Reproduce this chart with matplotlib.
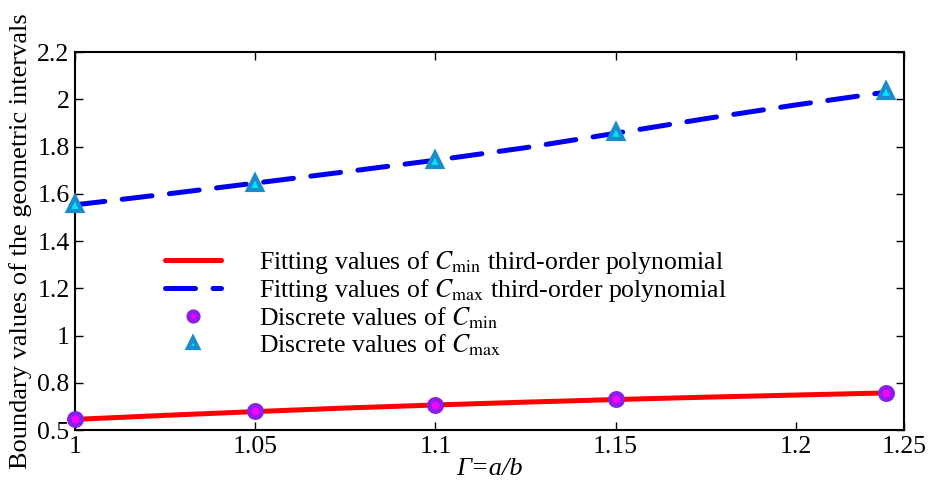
import matplotlib
matplotlib.use("Agg")
import matplotlib.pyplot as plt

plt.rcParams['font.family'] = ['Liberation Serif', 'DejaVu Serif']
plt.rcParams['mathtext.fontset'] = 'stix'

# Discrete values
x_disc = [1.0, 1.05, 1.1, 1.15, 1.225]
cmin_disc = [0.647, 0.680, 0.706, 0.730, 0.757]
cmax_disc = [1.556, 1.647, 1.744, 1.862, 2.035]

# Fitted third-order polynomial curves
x_fit = [1.0, 1.025, 1.05, 1.075, 1.1, 1.125, 1.15, 1.175, 1.2, 1.225]
cmin_fit = [0.645, 0.662, 0.678, 0.693, 0.706, 0.718, 0.729, 0.739, 0.748, 0.757]
cmax_fit = [1.553, 1.598, 1.645, 1.693, 1.742, 1.795, 1.856, 1.918, 1.976, 2.030]

x_ticks = [1.0, 1.05, 1.1, 1.15, 1.2, 1.23]
x_ticklabels = ['1', '1.05', '1.1', '1.15', '1.2', '1.25']
y_ticks = [0.6, 0.8, 1.0, 1.2, 1.4, 1.6, 1.8, 2.0, 2.2]
y_ticklabels = ['0.5', '0.8', '1', '1.2', '1.4', '1.6', '1.8', '2', '2.2']

fig = plt.figure(figsize=(9.31, 4.86), dpi=100)
ax = fig.add_axes([0.0806, 0.1152, 0.8904, 0.7778])

ax.plot(x_fit, cmin_fit, color='#ff0000', lw=3.6, solid_capstyle='round',
        label=r'Fitting values of $C_{\mathrm{min}}$ third-order polynomial', zorder=2)
ax.plot(x_fit, cmax_fit, color='#0000ee', lw=3.6, dashes=(6, 3.5), dash_capstyle='round',
        label=r'Fitting values of $C_{\mathrm{max}}$ third-order polynomial', zorder=2)
ax.plot(x_disc, cmin_disc, linestyle='none', marker='o', markersize=9,
        markerfacecolor='#ff00ff', markeredgecolor='#8a1fe8', markeredgewidth=3.2,
        label=r'Discrete values of $C_{\mathrm{min}}$', zorder=3, clip_on=False)
ax.plot(x_disc, cmax_disc, linestyle='none', marker='^', markersize=10,
        markerfacecolor='#00e5ff', markeredgecolor='#1a8ccc', markeredgewidth=3.0,
        label=r'Discrete values of $C_{\mathrm{max}}$', zorder=3, clip_on=False)

ax.set_xlim(1.0, 1.23)
ax.set_ylim(0.6, 2.2)
ax.set_xticks(x_ticks)
ax.set_xticklabels(x_ticklabels)
ax.set_yticks(y_ticks)
ax.set_yticklabels(y_ticklabels)
ax.tick_params(direction='in', top=True, right=True, labelsize=18.5, length=6, width=1.0, pad=4)
for s in ax.spines.values():
    s.set_linewidth(1.5)

ax.set_xlabel('Γ=a/b', fontsize=19, fontstyle='italic', labelpad=0)
ax.set_ylabel('Boundary values of the geometric intervals', fontsize=19, labelpad=4)

leg = ax.legend(loc='upper left', bbox_to_anchor=(0.109, 0.48), frameon=False, fontsize=18.5,
                handlelength=2.15, handletextpad=1.5, labelspacing=0.05, borderpad=0,
                borderaxespad=0)
for h in leg.legend_handles[2:]:
    h.set_markersize(7)

fig.savefig('out.png', dpi=100)
